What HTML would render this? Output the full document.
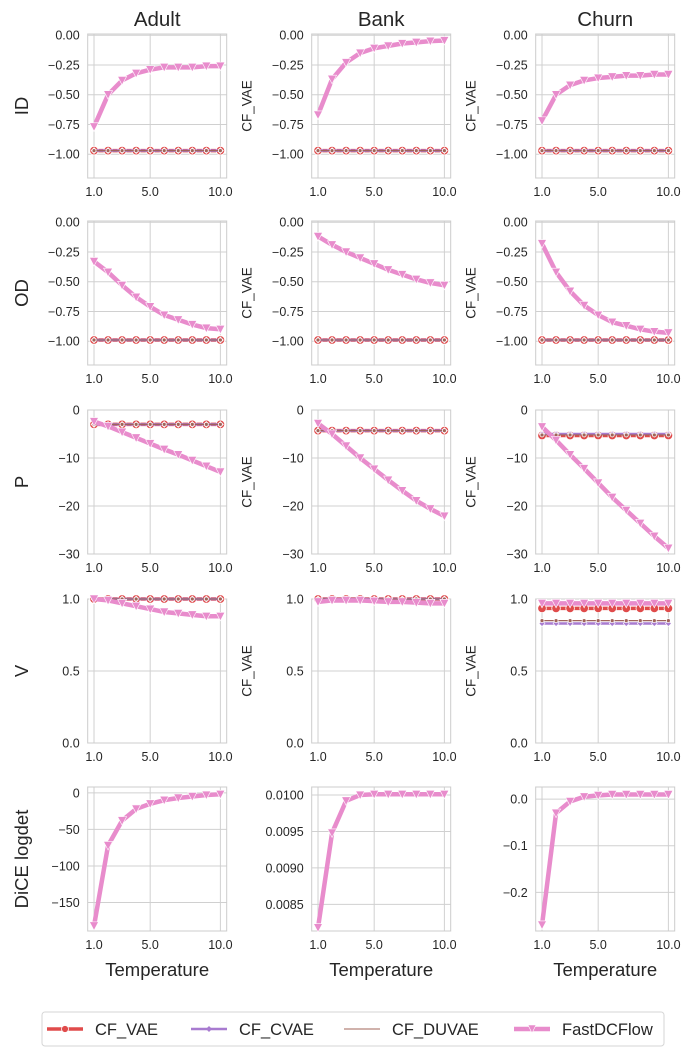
<!DOCTYPE html>
<html><head><meta charset="utf-8">
<style>
html,body{margin:0;padding:0;background:#fff;}
svg{display:block;font-family:"Liberation Sans","DejaVu Sans",sans-serif;}
</style></head>
<body>
<svg id="fig" width="695" height="1056" viewBox="0 0 695 1056" xmlns="http://www.w3.org/2000/svg"></svg>
<script>
const temps = [1,2,3,4,5,6,7,8,9,10];
const datasets = ["Adult","Bank","Churn"];
const metrics = ["ID","OD","P","V","DiCE logdet"];
const seriesNames = ["CF_VAE","CF_CVAE","CF_DUVAE","FastDCFlow"];
const idFast = [
 [-0.77,-0.50,-0.38,-0.32,-0.29,-0.27,-0.27,-0.27,-0.26,-0.26],
 [-0.67,-0.37,-0.23,-0.15,-0.11,-0.09,-0.07,-0.06,-0.05,-0.045],
 [-0.72,-0.50,-0.42,-0.38,-0.36,-0.35,-0.34,-0.34,-0.33,-0.33]];
const idBase = [[-0.97,-0.97,-0.97],[-0.97,-0.97,-0.97],[-0.97,-0.97,-0.97]];
const odFast = [
 [-0.33,-0.42,-0.53,-0.63,-0.71,-0.78,-0.82,-0.86,-0.89,-0.90],
 [-0.12,-0.19,-0.25,-0.30,-0.35,-0.40,-0.44,-0.48,-0.51,-0.53],
 [-0.18,-0.42,-0.58,-0.70,-0.78,-0.84,-0.87,-0.90,-0.92,-0.93]];
const odBase = [[-0.99,-0.99,-0.99],[-0.99,-0.99,-0.99],[-0.99,-0.99,-0.99]];
const pFast = [
 [-2.4,-3.4,-4.6,-5.8,-7.0,-8.2,-9.3,-10.5,-11.7,-12.9],
 [-2.8,-5.0,-7.5,-10.0,-12.3,-14.6,-16.8,-18.9,-20.6,-22.1],
 [-3.5,-6.3,-9.3,-12.2,-15.2,-18.2,-20.9,-23.6,-26.3,-28.8]];
const pBase = [[-3.0,-3.0,-3.0],[-4.3,-4.3,-4.3],[-5.3,-5.0,-5.2]];
const vFast = [
 [1.0,0.99,0.97,0.95,0.93,0.91,0.90,0.89,0.88,0.88],
 [0.98,0.99,0.99,0.99,0.985,0.98,0.98,0.975,0.97,0.97],
 [0.97,0.97,0.97,0.97,0.97,0.97,0.97,0.97,0.97,0.97]];
const vBase = [[1.0,1.0,1.0],[1.0,1.0,1.0],[0.935,0.83,0.85]];
const diceFast = [
 [-182,-72,-38,-22,-15,-10,-7,-5,-3,-2],
 [0.00818,0.00948,0.00992,0.01000,0.01001,0.01001,0.01001,0.01001,0.01001,0.01001],
 [-0.27,-0.03,-0.005,0.005,0.008,0.01,0.01,0.01,0.01,0.01]];
const yLims = [
 [[-1.2,0.01],[-1.2,0.01],[-1.2,0.01]],
 [[-1.2,0.01],[-1.2,0.01],[-1.2,0.01]],
 [[-30,0],[-30,0],[-30,0]],
 [[0,1],[0,1],[0,1]],
 [[-189,8],[0.008134,0.01011],[-0.283,0.026]]];
const tickVals = [
 [[0,-0.25,-0.5,-0.75,-1],[0,-0.25,-0.5,-0.75,-1],[0,-0.25,-0.5,-0.75,-1]],
 [[0,-0.25,-0.5,-0.75,-1],[0,-0.25,-0.5,-0.75,-1],[0,-0.25,-0.5,-0.75,-1]],
 [[0,-10,-20,-30],[0,-10,-20,-30],[0,-10,-20,-30]],
 [[0,0.5,1],[0,0.5,1],[0,0.5,1]],
 [[0,-50,-100,-150],[0.0085,0.009,0.0095,0.01],[0,-0.1,-0.2]]];
const tickLabels = [
 [["0.00","−0.25","−0.50","−0.75","−1.00"],["0.00","−0.25","−0.50","−0.75","−1.00"],["0.00","−0.25","−0.50","−0.75","−1.00"]],
 [["0.00","−0.25","−0.50","−0.75","−1.00"],["0.00","−0.25","−0.50","−0.75","−1.00"],["0.00","−0.25","−0.50","−0.75","−1.00"]],
 [["0","−10","−20","−30"],["0","−10","−20","−30"],["0","−10","−20","−30"]],
 [["0.0","0.5","1.0"],["0.0","0.5","1.0"],["0.0","0.5","1.0"]],
 [["0","−50","−100","−150"],["0.0085","0.0090","0.0095","0.0100"],["0.0","−0.1","−0.2"]]];
const xTicks = [1,5,10];
const xTickLabels = ["1.0","5.0","10.0"];

const NS="http://www.w3.org/2000/svg";
const svg=document.getElementById('fig');
function mk(tag,attrs,parent){const e=document.createElementNS(NS,tag);for(const k in attrs)e.setAttribute(k,attrs[k]);(parent||svg).appendChild(e);return e;}
const colX=[87.7,311.7,535.7], W=139, rowY=[34,221,410,599,787], H=144;
const COLORS={CF_VAE:"#e04b4b",CF_CVAE:"#a87bd0",CF_DUVAE:"#a0645a",FastDCFlow:"#e88ccc"};
function fastData(r,c){return [idFast,odFast,pFast,vFast,diceFast][r][c];}
function baseData(r){return [idBase,odBase,pBase,vBase,null][r];}

for(let r=0;r<5;r++){for(let c=0;c<3;c++){
  const x0=colX[c], y0=rowY[r];
  const [lo,hi]=yLims[r][c];
  const xs=t=>x0+(t-0.55)/9.9*W;
  const ys=v=>y0+(hi-v)/(hi-lo)*H;
  const g=mk('g',{});
  
  
  tickVals[r][c].forEach((tv,i)=>{
    const y=ys(tv);
    const gl=mk('line',{x1:x0,x2:x0+W,y1:y,y2:y,stroke:"#d0d0d0","stroke-width":1},g);
    
    
    const tl=mk('text',{x:x0-8,y:y+4.5,"text-anchor":"end","font-size":"12.5",fill:"#262626"},g);
    tl.textContent=tickLabels[r][c][i];
    
    
  });
  xTicks.forEach((tv,i)=>{
    const x=xs(tv);
    const gl=mk('line',{x1:x,x2:x,y1:y0,y2:y0+H,stroke:"#d0d0d0","stroke-width":1},g);
    
    
    const tl=mk('text',{x:x,y:y0+H+18,"text-anchor":"middle","font-size":"12.5",fill:"#262626"},g);
    tl.textContent=xTickLabels[i];
    
    
  });
  const fr=mk('rect',{x:x0,y:y0,width:W,height:H,fill:"none",stroke:"#cccccc","stroke-width":1},g);
  
  
  const bd=baseData(r);
  if(bd){
    const b=bd[c];
    const styles=[
      {name:"CF_VAE",w:3.5,m:"circle",ms:4.3},
      {name:"CF_CVAE",w:2.5,m:"diamond",ms:3},
      {name:"CF_DUVAE",w:1.2,m:"dot",ms:2}];
    styles.forEach((s,si)=>{
      const pts=temps.map(t=>xs(t)+","+ys(b[si])).join(" ");
      const pl=mk('polyline',{points:pts,fill:"none",stroke:COLORS[s.name],"stroke-width":s.w},g);
      
      
      temps.forEach(t=>{
        const cx=xs(t), cy=ys(b[si]);
        let m;
        if(s.m==="diamond") m=mk('polygon',{points:`${cx},${cy-s.ms} ${cx+s.ms},${cy} ${cx},${cy+s.ms} ${cx-s.ms},${cy}`,fill:COLORS[s.name],stroke:"#fff","stroke-width":0.6},g);
        else m=mk('circle',{cx:cx,cy:cy,r:s.ms,fill:COLORS[s.name],stroke:"#fff","stroke-width":0.8},g);
        
        
      });
    });
  }
  const fd=fastData(r,c);
  const pts=temps.map((t,i)=>xs(t)+","+ys(fd[i])).join(" ");
  const pl=mk('polyline',{points:pts,fill:"none",stroke:COLORS.FastDCFlow,"stroke-width":4.5,"stroke-linejoin":"round"},g);
  
  
  temps.forEach((t,i)=>{
    const cx=xs(t), cy=ys(fd[i]);
    const m=mk('polygon',{points:`${cx-4.5},${cy-4} ${cx+4.5},${cy-4} ${cx},${cy+4.5}`,fill:COLORS.FastDCFlow,stroke:"#fff","stroke-width":0.6},g);
    
    
  });
  if(c===0){
    const yl=mk('text',{x:0,y:0,"text-anchor":"middle","font-size":"18.5",fill:"#262626",transform:`translate(28,${y0+H/2}) rotate(-90)`},g);
    yl.textContent=metrics[r];
    
    
  } else if(r<4){
    const yl=mk('text',{x:0,y:0,"text-anchor":"middle","font-size":"13.5",fill:"#262626",transform:`translate(${x0-60},${y0+H/2}) rotate(-90)`},g);
    yl.textContent="CF_VAE";
    
    
  }
  if(r===0){
    const tt=mk('text',{x:x0+W/2,y:26,"text-anchor":"middle","font-size":"20.5",fill:"#262626"},g);
    tt.textContent=datasets[c];
    
    
  }
  if(r===4){
    const xl=mk('text',{x:x0+W/2,y:976,"text-anchor":"middle","font-size":"18.5",fill:"#262626"},g);
    xl.textContent="Temperature";
    
    
  }
}}

// legend
const lg=mk('g',{});


const lb=mk('rect',{x:42,y:1012,width:622,height:34,rx:3,fill:"#fff",stroke:"#d6d6d6","stroke-width":1},lg);


const legX=[47,191,344,514];
seriesNames.forEach((n,i)=>{
  const e=mk('g',{},lg);
  
  
  const x=legX[i], y=1029;
  const w=[3.5,2.5,1,4.5][i];
  mk('line',{x1:x,x2:x+36,y1:y,y2:y,stroke:COLORS[n],"stroke-width":w},e);
  if(i===0) mk('circle',{cx:x+18,cy:y,r:3.5,fill:COLORS[n],stroke:"#fff","stroke-width":0.8},e);
  if(i===1) mk('polygon',{points:`${x+18},${y-3} ${x+21},${y} ${x+18},${y+3} ${x+15},${y}`,fill:COLORS[n]},e);
  if(i===3) mk('polygon',{points:`${x+14},${y-4} ${x+22},${y-4} ${x+18},${y+4}`,fill:COLORS[n],stroke:"#fff","stroke-width":0.6},e);
  const t=mk('text',{x:x+48,y:y+6,"font-size":"16.5",fill:"#262626"},e);
  t.textContent=n;
});
</script>
</body></html>
